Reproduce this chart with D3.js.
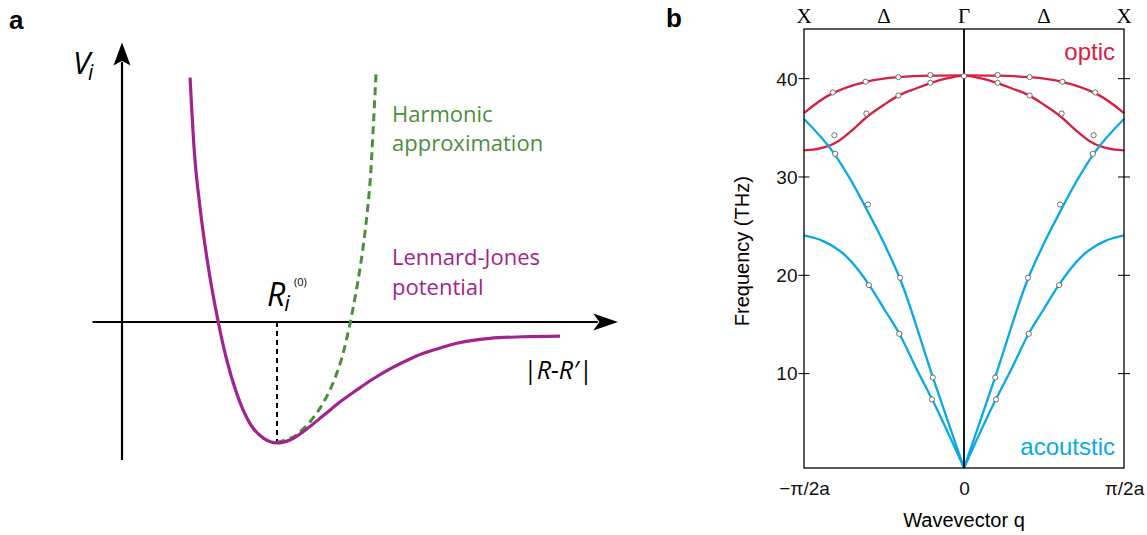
<!DOCTYPE html>
<html>
<head>
<meta charset="utf-8">
<script src="https://cdn.jsdelivr.net/npm/d3@7"></script>
<style>
  body { margin: 0; background: #fff; }
  svg { display: block; }
</style>
</head>
<body>
<svg id="chart" width="1147" height="535"></svg>
<script>
// ---- panel a : potential curves (r in units of R0, V in units of well depth)
var ljR = [0.439, 0.466, 0.505, 0.55, 0.621, 0.675, 0.740, 0.826, 0.912, 1.0,
           1.084, 1.192, 1.299, 1.406, 1.514, 1.619, 1.729, 1.837, 1.944, 2.052, 2.159, 2.374, 2.589, 2.826]
var ljV = [2.02, 1.42, 0.93, 0.51, 0.0, -0.31, -0.59, -0.84, -0.96, -1.0,
           -0.975, -0.884, -0.773, -0.661, -0.562, -0.471, -0.388, -0.318, -0.259, -0.215, -0.176, -0.135, -0.122, -0.116]

var harmR = [1.0, 1.084, 1.168, 1.252, 1.329, 1.40, 1.458, 1.503, 1.542, 1.574, 1.60, 1.619, 1.639]
var harmV = [-0.995, -0.962, -0.884, -0.76, -0.595, -0.372, -0.091, 0.198, 0.496, 0.81, 1.149, 1.562, 2.058]

// ---- panel b : phonon dispersion (q in units of pi/2a, frequency in THz)
var opticUpQ = [-1, -0.84, -0.62, -0.41, -0.21, 0, 0.21, 0.41, 0.62, 0.84, 1]
var opticUpF = [36.45, 38.3, 39.6, 40.1, 40.25, 40.28, 40.25, 40.1, 39.6, 38.3, 36.45]
var opticLowQ = [-1, -0.9, -0.8, -0.7, -0.6, -0.5, -0.4, -0.3, -0.2, -0.1, 0,
                 0.1, 0.2, 0.3, 0.4, 0.5, 0.6, 0.7, 0.8, 0.9, 1]
var opticLowF = [32.65, 32.85, 33.45, 34.7, 36.15, 37.3, 38.3, 38.95, 39.55, 40.0, 40.25,
                 40.0, 39.55, 38.95, 38.3, 37.3, 36.15, 34.7, 33.45, 32.85, 32.65]

var laLeftQ = [-1, -0.815, -0.71, -0.6, -0.5, -0.4025, -0.194, 0]
var laLeftF = [35.85, 32.4, 29.7, 26.4, 23.2, 19.7, 9.55, 0.35]
var laRightQ = [0, 0.194, 0.4025, 0.5, 0.6, 0.71, 0.815, 1]
var laRightF = [0.35, 9.55, 19.7, 23.2, 26.4, 29.7, 32.4, 35.85]
var taLeftQ = [-1, -0.877, -0.731, -0.592, -0.502, -0.404, -0.294, -0.2, 0]
var taLeftF = [24.0, 23.4, 21.8, 18.95, 16.6, 14.0, 10.34, 7.36, 0.35]
var taRightQ = [0, 0.2, 0.294, 0.404, 0.502, 0.592, 0.731, 0.877, 1]
var taRightF = [0.35, 7.36, 10.34, 14.0, 16.6, 18.95, 21.8, 23.4, 24.0]

// measured points (open circles)
var pointQ = [-0.82, -0.615, -0.41, -0.21, 0, -0.81, -0.805, -0.61, -0.41, -0.21,
              -0.6, -0.4, -0.195, -0.595, -0.405, -0.2,
              0.21, 0.41, 0.615, 0.82, 0.21, 0.41, 0.61, 0.81, 0.805,
              0.6, 0.4, 0.195, 0.595, 0.405, 0.2]
var pointF = [38.55, 39.64, 40.11, 40.32, 40.2, 34.2, 32.3, 36.4, 38.24, 39.53,
              27.15, 19.7, 9.55, 18.95, 14.0, 7.33,
              40.32, 40.11, 39.64, 38.55, 39.53, 38.24, 36.4, 34.2, 32.3,
              27.15, 19.7, 9.55, 18.95, 14.0, 7.33]

var freqTicks = [10, 20, 30, 40]
var qTickVals = [-1, 0, 1]
var qTickLabels = ["\u2212\u03c0/2a", "0", "\u03c0/2a"]
var symVals = [-1, -0.5, 0, 0.5, 1]
var symLabels = ["X", "\u0394", "\u0393", "\u0394", "X"]

var zip = (a, b) => a.map((d, i) => [d, b[i]])

var svg = d3.select("#chart")

var purple = "#a2238f", green = "#4b8e3b", red = "#d7213f", cyan = "#0aa9e3"

// ================= panel a =================
var xa = d3.scaleLinear().domain([0, 1]).range([122, 277])
var ya = d3.scaleLinear().domain([0, -1]).range([322, 443])

var ga = svg.append("g")

ga.append("text").attr("x", 9).attr("y", 29)
  .style("font-family", "Liberation Sans, Arial").style("font-weight", "bold")
  .style("font-size", "26px").text("a")

// axes with arrow heads
ga.append("line").attr("x1", xa(0)).attr("x2", xa(0))
  .attr("y1", ya(-1.14)).attr("y2", ya(2.15))
  .attr("stroke", "black").attr("stroke-width", 2.2)
ga.append("path")
  .attr("d", `M${xa(0)},${ya(2.31)} L${xa(0) - 8.5},${ya(2.12)} L${xa(0)},${ya(2.16)} L${xa(0) + 8.5},${ya(2.12)} Z`)
  .attr("fill", "black")

ga.append("line").attr("x1", xa(-0.19)).attr("x2", xa(3.07))
  .attr("y1", ya(0)).attr("y2", ya(0))
  .attr("stroke", "black").attr("stroke-width", 2.2)
ga.append("path")
  .attr("d", `M${xa(3.2)},${ya(0)} L${xa(3.04)},${ya(0) - 8.5} L${xa(3.08)},${ya(0)} L${xa(3.04)},${ya(0) + 8.5} Z`)
  .attr("fill", "black")

// R0 marker
ga.append("line").attr("x1", xa(1)).attr("x2", xa(1))
  .attr("y1", ya(0)).attr("y2", ya(-1))
  .attr("stroke", "black").attr("stroke-width", 2)
  .attr("stroke-dasharray", "5,4")

ga.append("path").datum(zip(harmR, harmV))
  .attr("d", d3.line().x(d => xa(d[0])).y(d => ya(d[1])).curve(d3.curveMonotoneY))
  .attr("fill", "none")
  .attr("stroke", green).attr("stroke-width", 3)
  .attr("stroke-dasharray", "8,5")

ga.append("path").datum(zip(ljR, ljV))
  .attr("d", d3.line().x(d => xa(d[0])).y(d => ya(d[1])).curve(d3.curveMonotoneX))
  .attr("fill", "none")
  .attr("stroke", purple).attr("stroke-width", 3.2)

var labelFont = "Open Sans, Noto Sans, sans-serif"

ga.append("text").attr("x", 73).attr("y", 74)
  .style("font-family", labelFont).style("font-style", "italic").style("font-size", "31px")
  .text("V")
  .append("tspan").attr("dx", -2).attr("dy", 6).style("font-size", "21px").text("i")

var rLab = ga.append("text").attr("x", 267).attr("y", 306)
  .style("font-family", labelFont).style("font-style", "italic").style("font-size", "32px")
rLab.append("tspan").text("R")
rLab.append("tspan").attr("dx", -1).attr("dy", 5).style("font-size", "22px").text("i")
ga.append("text").attr("x", 294).attr("y", 286)
  .style("font-family", labelFont).style("font-size", "11px").text("(0)")

ga.append("text").attr("x", 523).attr("y", 379)
  .style("font-family", labelFont).style("font-style", "italic").style("font-size", "25px")
  .text("|R-R\u2032|")

ga.append("text").attr("x", 392).attr("y", 122)
  .style("font-family", labelFont).style("font-size", "22px").attr("fill", green)
  .text("Harmonic")
ga.append("text").attr("x", 392).attr("y", 151)
  .style("font-family", labelFont).style("font-size", "22px").attr("fill", green)
  .text("approximation")
ga.append("text").attr("x", 392).attr("y", 265)
  .style("font-family", labelFont).style("font-size", "22px").attr("fill", purple)
  .text("Lennard-Jones")
ga.append("text").attr("x", 392).attr("y", 295)
  .style("font-family", labelFont).style("font-size", "22px").attr("fill", purple)
  .text("potential")

// ================= panel b =================
var dims = { left: 804, right: 1124, top: 29, bottom: 468 }
var xb = d3.scaleLinear().domain([-1, 1]).range([dims.left, dims.right])
var yb = d3.scaleLinear().domain([0.35, 45]).range([dims.bottom, dims.top])

var gb = svg.append("g").style("font-family", "Liberation Sans, Arial, sans-serif")

gb.append("text").attr("x", 666).attr("y", 27)
  .style("font-weight", "bold").style("font-size", "26px").text("b")

var smoothLine = d3.line().x(d => xb(d[0])).y(d => yb(d[1])).curve(d3.curveNatural)
var branchLine = d3.line().x(d => xb(d[0])).y(d => yb(d[1])).curve(d3.curveMonotoneX)

var curves = [
  [opticUpQ, opticUpF, red, smoothLine], [opticLowQ, opticLowF, red, branchLine],
  [laLeftQ, laLeftF, cyan, branchLine], [laRightQ, laRightF, cyan, branchLine],
  [taLeftQ, taLeftF, cyan, branchLine], [taRightQ, taRightF, cyan, branchLine]
]
curves.forEach(c => {
  gb.append("path").datum(zip(c[0], c[1]))
    .attr("d", c[3]).attr("fill", "none")
    .attr("stroke", c[2]).attr("stroke-width", 2.3)
})

// frame
gb.append("rect").attr("x", dims.left).attr("y", dims.top)
  .attr("width", dims.right - dims.left).attr("height", dims.bottom - dims.top)
  .attr("fill", "none").attr("stroke", "black").attr("stroke-width", 1.3)

gb.append("line").attr("x1", xb(0)).attr("x2", xb(0))
  .attr("y1", dims.top).attr("y2", dims.bottom)
  .attr("stroke", "black").attr("stroke-width", 1.8)

gb.selectAll("circle.pt").data(zip(pointQ, pointF)).enter()
  .append("circle").attr("class", "pt")
  .attr("cx", d => xb(d[0])).attr("cy", d => yb(d[1])).attr("r", 2.6)
  .attr("fill", "white").attr("stroke", "#6d6d6d").attr("stroke-width", 1)

// y axes (ticks cross the frame on both sides)
var yAxisL = d3.axisLeft(yb).tickValues(freqTicks).tickSize(5.5).tickPadding(1)
var gyl = gb.append("g").attr("transform", `translate(${dims.left},0)`).call(yAxisL)
gyl.select(".domain").remove()
gyl.selectAll("text").style("font-size", "19px").attr("fill", "#111").attr("dy", "0.36em")
gyl.selectAll(".tick").append("line").attr("x1", 0).attr("x2", 5.5).attr("stroke", "black")

var gyr = gb.append("g").attr("transform", `translate(${dims.right},0)`)
  .call(d3.axisRight(yb).tickValues(freqTicks).tickSize(6).tickFormat(""))
gyr.select(".domain").remove()
gyr.selectAll(".tick").append("line").attr("x1", 0).attr("x2", -6).attr("stroke", "black")

var gx = gb.append("g").attr("transform", `translate(0,${dims.bottom})`)
  .call(d3.axisBottom(xb).tickValues(qTickVals).tickSize(0).tickPadding(14)
    .tickFormat((d, i) => qTickLabels[i]))
gx.select(".domain").remove()
gx.selectAll("text").style("font-size", "19px").attr("fill", "#111")

// symmetry point labels on top
gb.selectAll("text.sym").data(symVals).enter()
  .append("text").attr("class", "sym")
  .attr("x", d => xb(d)).attr("y", 23).attr("text-anchor", "middle")
  .style("font-family", "Liberation Serif, Times New Roman, serif").style("font-size", "21px")
  .text((d, i) => symLabels[i])

gb.append("text").attr("x", xb(0)).attr("y", 527).attr("text-anchor", "middle")
  .style("font-size", "20px").text("Wavevector q")

gb.append("text").attr("transform", `translate(749,${yb(22.4)}) rotate(-90)`)
  .attr("text-anchor", "middle").style("font-size", "20px").text("Frequency (THz)")

gb.append("text").attr("x", 1115).attr("y", 60).attr("text-anchor", "end")
  .attr("fill", red).style("font-size", "24px").text("optic")
gb.append("text").attr("x", 1115).attr("y", 455).attr("text-anchor", "end")
  .attr("fill", cyan).style("font-size", "24px").text("acoutstic")
</script>
</body>
</html>
